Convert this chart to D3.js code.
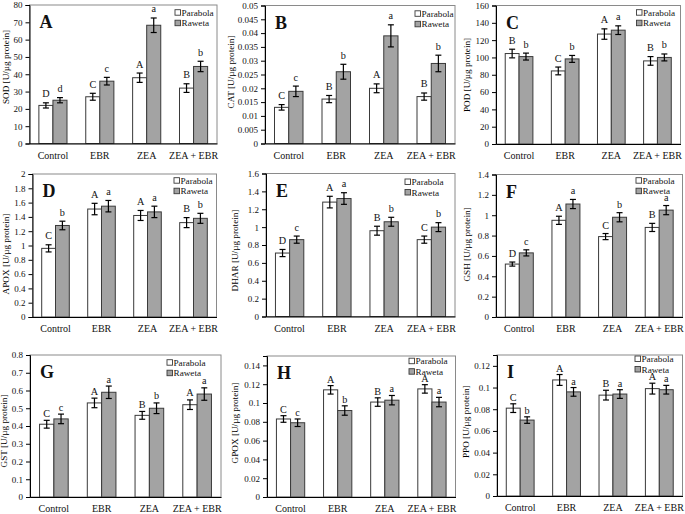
<!DOCTYPE html>
<html>
<head>
<meta charset="utf-8">
<script src="https://cdn.jsdelivr.net/npm/d3@7"></script>
<style>
  html, body { margin: 0; padding: 0; background: #fff; }
  svg { display: block; font-family: "Liberation Serif", "Times New Roman", serif; }
</style>
</head>
<body>
<svg id="chart" width="685" height="514"></svg>
<script>
// ---------------- DATA ----------------
const categories = ["Control", "EBR", "ZEA", "ZEA + EBR"];
const seriesNames = ["Parabola", "Raweta"];

// A: SOD
const sodParabola = [22, 27, 38, 32];
const sodRaweta = [25, 36, 68.3, 44.5];
const sodParabolaErr = [1.5, 2, 2.7, 2.5];
const sodRawetaErr = [1.5, 2.2, 4.2, 3];
const sodParabolaLetters = ["D", "C", "A", "B"];
const sodRawetaLetters = ["d", "c", "a", "b"];
const sodTicks = [0, 10, 20, 30, 40, 50, 60, 70, 80];

// B: CAT
const catParabola = [0.0131, 0.0161, 0.020, 0.017];
const catRaweta = [0.0189, 0.026, 0.039, 0.029];
const catParabolaErr = [0.001, 0.0013, 0.0016, 0.0013];
const catRawetaErr = [0.0019, 0.0027, 0.004, 0.003];
const catParabolaLetters = ["C", "B", "A", "B"];
const catRawetaLetters = ["c", "b", "a", "b"];
const catTicks = [0, 0.005, 0.01, 0.015, 0.02, 0.025, 0.03, 0.035, 0.04, 0.045, 0.05];

// C: POD
const podParabola = [104.5, 84.4, 127, 96];
const podRaweta = [101, 98.3, 131.5, 100];
const podParabolaErr = [5, 4.5, 6, 5];
const podRawetaErr = [4, 4, 5, 4];
const podParabolaLetters = ["B", "C", "A", "B"];
const podRawetaLetters = ["b", "b", "a", "b"];
const podTicks = [0, 20, 40, 60, 80, 100, 120, 140, 160];

// D: APOX
const apoxParabola = [0.96, 1.51, 1.42, 1.32];
const apoxRaweta = [1.28, 1.55, 1.47, 1.38];
const apoxParabolaErr = [0.05, 0.08, 0.07, 0.07];
const apoxRawetaErr = [0.06, 0.08, 0.08, 0.07];
const apoxParabolaLetters = ["C", "A", "A", "B"];
const apoxRawetaLetters = ["b", "a", "a", "b"];
const apoxTicks = [0, 0.2, 0.4, 0.6, 0.8, 1, 1.2, 1.4, 1.6, 1.8, 2];

// E: DHAR
const dharParabola = [0.71, 1.28, 0.96, 0.86];
const dharRaweta = [0.86, 1.32, 1.06, 1.0];
const dharParabolaErr = [0.04, 0.065, 0.05, 0.04];
const dharRawetaErr = [0.04, 0.065, 0.05, 0.05];
const dharParabolaLetters = ["D", "A", "B", "C"];
const dharRawetaLetters = ["c", "a", "b", "b"];
const dharTicks = [0, 0.2, 0.4, 0.6, 0.8, 1, 1.2, 1.4, 1.6];

// F: GSH
const gshParabola = [0.52, 0.95, 0.79, 0.88];
const gshRaweta = [0.63, 1.11, 0.98, 1.05];
const gshParabolaErr = [0.02, 0.04, 0.03, 0.04];
const gshRawetaErr = [0.03, 0.045, 0.045, 0.045];
const gshParabolaLetters = ["D", "A", "C", "B"];
const gshRawetaLetters = ["c", "a", "b", "a"];
const gshTicks = [0, 0.2, 0.4, 0.6, 0.8, 1, 1.2, 1.4];

// G: GST
const gstParabola = [0.41, 0.53, 0.46, 0.52];
const gstRaweta = [0.44, 0.59, 0.50, 0.58];
const gstParabolaErr = [0.022, 0.027, 0.022, 0.027];
const gstRawetaErr = [0.027, 0.035, 0.03, 0.035];
const gstParabolaLetters = ["C", "A", "B", "A"];
const gstRawetaLetters = ["c", "a", "b", "a"];
const gstTicks = [0, 0.1, 0.2, 0.3, 0.4, 0.5, 0.6, 0.7, 0.8];

// H: GPOX
const gpoxParabola = [0.083, 0.114, 0.101, 0.115];
const gpoxRaweta = [0.079, 0.092, 0.103, 0.101];
const gpoxParabolaErr = [0.0035, 0.0045, 0.0045, 0.0045];
const gpoxRawetaErr = [0.004, 0.005, 0.005, 0.005];
const gpoxParabolaLetters = ["C", "A", "B", "A"];
const gpoxRawetaLetters = ["c", "b", "a", "a"];
const gpoxTicks = [0, 0.02, 0.04, 0.06, 0.08, 0.1, 0.12, 0.14];

// I: PPO
const ppoParabola = [0.081, 0.107, 0.093, 0.099];
const ppoRaweta = [0.070, 0.096, 0.094, 0.098];
const ppoParabolaErr = [0.004, 0.005, 0.0045, 0.005];
const ppoRawetaErr = [0.003, 0.004, 0.004, 0.004];
const ppoParabolaLetters = ["C", "A", "B", "A"];
const ppoRawetaLetters = ["b", "a", "a", "a"];
const ppoTicks = [0, 0.02, 0.04, 0.06, 0.08, 0.1, 0.12];

const panelLetters = ["A", "B", "C", "D", "E", "F", "G", "H", "I"];
const axisTitles = ["SOD [U/µg protein]", "CAT [U/µg protein]", "POD [U/µg protein]",
                    "APOX [U/µg protein]", "DHAR [U/µg protein]", "GSH [U/µg protein]",
                    "GST [U/µg protein]", "GPOX [U/µg protein]", "PPO [U/µg protein]"];
const axisMax = [80, 0.05, 160, 2, 1.6, 1.4, 0.8, 0.15, 0.13];

const panelData = [
  [sodParabola, sodRaweta, sodParabolaErr, sodRawetaErr, sodParabolaLetters, sodRawetaLetters, sodTicks],
  [catParabola, catRaweta, catParabolaErr, catRawetaErr, catParabolaLetters, catRawetaLetters, catTicks],
  [podParabola, podRaweta, podParabolaErr, podRawetaErr, podParabolaLetters, podRawetaLetters, podTicks],
  [apoxParabola, apoxRaweta, apoxParabolaErr, apoxRawetaErr, apoxParabolaLetters, apoxRawetaLetters, apoxTicks],
  [dharParabola, dharRaweta, dharParabolaErr, dharRawetaErr, dharParabolaLetters, dharRawetaLetters, dharTicks],
  [gshParabola, gshRaweta, gshParabolaErr, gshRawetaErr, gshParabolaLetters, gshRawetaLetters, gshTicks],
  [gstParabola, gstRaweta, gstParabolaErr, gstRawetaErr, gstParabolaLetters, gstRawetaLetters, gstTicks],
  [gpoxParabola, gpoxRaweta, gpoxParabolaErr, gpoxRawetaErr, gpoxParabolaLetters, gpoxRawetaLetters, gpoxTicks],
  [ppoParabola, ppoRaweta, ppoParabolaErr, ppoRawetaErr, ppoParabolaLetters, ppoRawetaLetters, ppoTicks]
];

// ---------------- LAYOUT ----------------
// plot frames [left, top, right, bottom]
const frames = [
  [29.5, 5, 217, 143.5], [265, 5.5, 455, 143.5], [496, 5.5, 680.5, 144],
  [32.5, 174, 216.5, 317], [266, 173.5, 455, 316.5], [496, 174.5, 682.5, 317],
  [30, 355, 221, 497], [267, 356, 455.5, 497], [497, 355, 682.5, 496]
];
const titleOffsets = [22.5, 33, 28, 26, 30.5, 28.5, 25, 31.5, 30.5];
const titleCenters = [67, 72, 75, 254, 250.5, 244.5, 431, 423, 421.7];
const legendOffsets = [7.7, 8.3, 7.2, 6.7, 8.5, 6.2, 7.7, 5.2, 4.0];
const legendRights = [42, 40, 44, 42.5, 50, 46.5, 54, 46.5, 47.5];
const letterGaps = [5.5, 5.5, 5.5, 5.5, 5.5, 5, 3.5, 3, 3];
const fillColors = ["#ffffff", "#a3a3a3"];
const strokeColor = "#3a3a3a";

const svg = d3.select("#chart");

frames.forEach((fr, i) => {
  const [L, T, R, B] = fr;
  const [pv, rv, pe, re, pl, rl, ticks] = panelData[i];
  const g = svg.append("g");

  const x0 = d3.scaleBand().domain(categories).range([L, R]).paddingInner(0.4).paddingOuter(0.2);
  const x1 = d3.scaleBand().domain(seriesNames).range([0, x0.bandwidth()]).padding(0);
  const y = d3.scaleLinear().domain([0, axisMax[i]]).range([B, T]);

  // frame
  g.append("rect").attr("x", L).attr("y", T).attr("width", R - L).attr("height", B - T)
    .attr("fill", "none").attr("stroke", "#8a8a8a").attr("stroke-width", 1);

  const rows = [];
  categories.forEach((c, k) => {
    rows.push({c, s: seriesNames[0], v: pv[k], e: pe[k], lab: pl[k], idx: 0});
    rows.push({c, s: seriesNames[1], v: rv[k], e: re[k], lab: rl[k], idx: 1});
  });

  // bars
  g.selectAll("rect.bar").data(rows).enter().append("rect")
    .attr("class", "bar")
    .attr("x", d => x0(d.c) + x1(d.s))
    .attr("y", d => y(d.v))
    .attr("width", x1.bandwidth())
    .attr("height", d => y(0) - y(d.v))
    .attr("fill", d => fillColors[d.idx])
    .attr("stroke", strokeColor).attr("stroke-width", 1);

  // legend
  const lx = R - legendRights[i];
  seriesNames.forEach((s, k) => {
    const ly = T + legendOffsets[i] + k * 10.5;
    g.append("rect").attr("x", lx).attr("y", ly - 3).attr("width", 5.5).attr("height", 5.5)
      .attr("fill", fillColors[k]).attr("stroke", strokeColor).attr("stroke-width", 0.9);
    g.append("text").attr("x", lx + 6.5).attr("y", ly + 3)
      .attr("font-size", 9.2).attr("fill", "#111").text(s);
  });

  // error bars + letters
  const cap = 3;
  rows.forEach(d => {
    const cx = x0(d.c) + x1(d.s) + x1.bandwidth() / 2;
    const y1 = y(d.v + d.e), y2 = y(d.v - d.e);
    g.append("line").attr("x1", cx).attr("x2", cx).attr("y1", y1).attr("y2", y2)
      .attr("stroke", "#000").attr("stroke-width", 1.2);
    [y1, y2].forEach(yy => g.append("line").attr("x1", cx - cap).attr("x2", cx + cap)
      .attr("y1", yy).attr("y2", yy).attr("stroke", "#000").attr("stroke-width", 1.2));
    g.append("text").attr("x", cx).attr("y", y1 - letterGaps[i])
      .attr("text-anchor", "middle").attr("font-size", 10.2).attr("fill", "#111").text(d.lab);
  });

  // y axis
  const yAxis = d3.axisLeft(y).tickValues(ticks).tickSize(4).tickPadding(3)
    .tickFormat(v => String(+v.toFixed(4)));
  const ya = g.append("g").attr("transform", `translate(${L},0)`).call(yAxis);
  ya.select(".domain").attr("stroke", "#000");
  ya.selectAll(".tick line").attr("stroke", "#000");
  ya.selectAll("text").attr("font-size", 9).attr("font-family", "Liberation Serif").attr("fill", "#111");

  // x axis
  const xAxis = d3.axisBottom(x0).tickSize(0).tickPadding(8);
  const xa = g.append("g").attr("transform", `translate(0,${B})`).call(xAxis);
  xa.select(".domain").attr("stroke", "#000");
  xa.selectAll("text").attr("font-size", 10).attr("font-family", "Liberation Serif").attr("fill", "#111");

  // y title
  g.append("text")
    .attr("transform", `translate(${L - titleOffsets[i]},${titleCenters[i]}) rotate(-90)`)
    .attr("text-anchor", "middle").attr("dominant-baseline", "middle")
    .attr("font-size", 9.2).attr("fill", "#000").text(axisTitles[i]);

  // panel letter
  g.append("text").attr("x", L + 10).attr("y", T + 23)
    .attr("font-size", 18).attr("font-weight", "bold").attr("fill", "#111").text(panelLetters[i]);
});
</script>
</body>
</html>
